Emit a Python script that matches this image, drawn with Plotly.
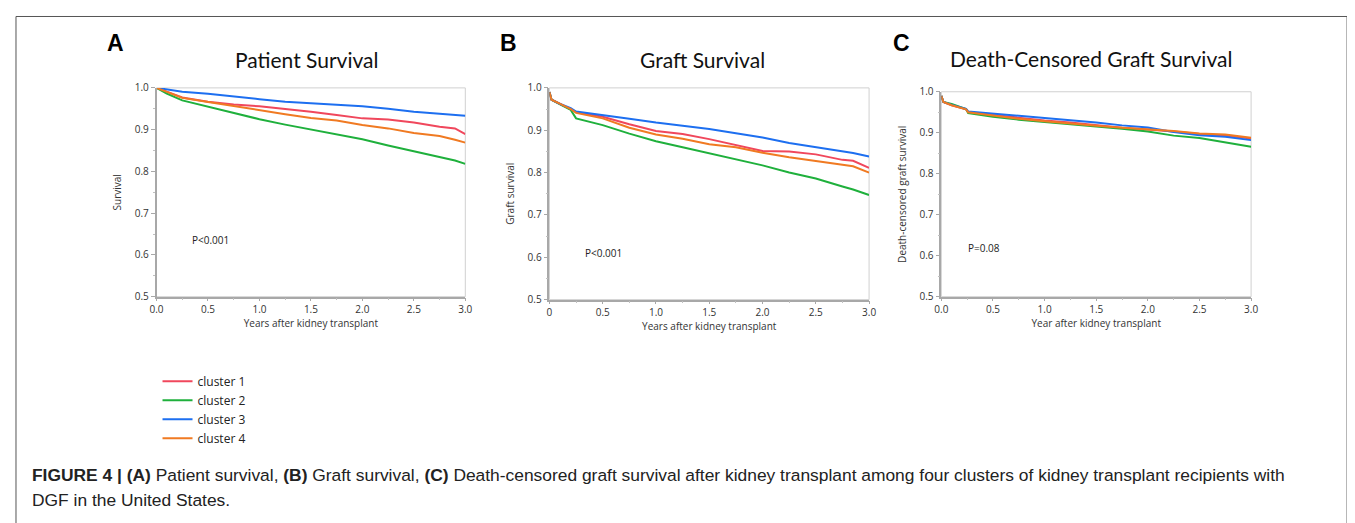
import plotly.graph_objects as go

W = 1355
H = 523
OFF = 8  # page body margin in the browser

clusters = ["cluster 1", "cluster 2", "cluster 3", "cluster 4"]
colors = ["#f0475c", "#1fb03c", "#1d6ff0", "#f07a22"]

# panel A - patient survival
t_a = [0, 0.1, 0.25, 0.5, 0.75, 1.0, 1.25, 1.5, 1.75, 2.0, 2.25, 2.5, 2.75, 2.9, 3.0]
a_c1 = [1.0, 0.991, 0.977, 0.967, 0.960, 0.956, 0.950, 0.943, 0.935, 0.927, 0.924, 0.917, 0.907, 0.903, 0.889]
a_c2 = [1.0, 0.986, 0.970, 0.955, 0.940, 0.925, 0.912, 0.900, 0.889, 0.877, 0.862, 0.848, 0.834, 0.826, 0.818]
a_c3 = [1.0, 0.996, 0.991, 0.986, 0.979, 0.973, 0.967, 0.963, 0.959, 0.956, 0.950, 0.943, 0.938, 0.935, 0.933]
a_c4 = [1.0, 0.990, 0.976, 0.966, 0.956, 0.946, 0.937, 0.928, 0.922, 0.911, 0.903, 0.892, 0.885, 0.876, 0.869]

# panel B - graft survival
t_b = [0, 0.02, 0.1, 0.2, 0.25, 0.5, 0.75, 1.0, 1.25, 1.5, 1.75, 2.0, 2.25, 2.5, 2.75, 2.85, 3.0]
b_c1 = [0.99, 0.972, 0.962, 0.950, 0.943, 0.932, 0.914, 0.898, 0.891, 0.879, 0.865, 0.851, 0.850, 0.843, 0.830, 0.828, 0.811]
b_c2 = [0.99, 0.972, 0.961, 0.948, 0.928, 0.912, 0.892, 0.874, 0.860, 0.846, 0.832, 0.817, 0.800, 0.786, 0.767, 0.760, 0.747]
b_c3 = [0.99, 0.972, 0.962, 0.952, 0.944, 0.936, 0.927, 0.918, 0.910, 0.903, 0.893, 0.883, 0.870, 0.860, 0.850, 0.846, 0.838]
b_c4 = [0.99, 0.972, 0.962, 0.950, 0.941, 0.928, 0.906, 0.890, 0.880, 0.867, 0.860, 0.847, 0.836, 0.827, 0.817, 0.815, 0.800]

# panel C - death-censored graft survival
t_c = [0, 0.02, 0.1, 0.24, 0.26, 0.5, 0.75, 1.0, 1.25, 1.5, 1.75, 2.0, 2.15, 2.25, 2.5, 2.75, 3.0]
c_c1 = [0.99, 0.975, 0.967, 0.957, 0.950, 0.943, 0.936, 0.930, 0.925, 0.919, 0.912, 0.908, 0.906, 0.903, 0.897, 0.893, 0.886]
c_c2 = [0.99, 0.975, 0.970, 0.958, 0.948, 0.939, 0.932, 0.927, 0.921, 0.915, 0.910, 0.903, 0.898, 0.893, 0.887, 0.877, 0.866]
c_c3 = [0.99, 0.975, 0.968, 0.958, 0.952, 0.947, 0.941, 0.935, 0.930, 0.925, 0.918, 0.913, 0.906, 0.902, 0.894, 0.890, 0.882]
c_c4 = [0.99, 0.975, 0.967, 0.957, 0.950, 0.942, 0.934, 0.928, 0.922, 0.917, 0.912, 0.908, 0.906, 0.904, 0.898, 0.896, 0.888]

x_ticks = [0, 0.5, 1.0, 1.5, 2.0, 2.5, 3.0]
x_text = ["0.0", "0.5", "1.0", "1.5", "2.0", "2.5", "3.0"]
x_text_b = ["0", "0.5", "1.0", "1.5", "2.0", "2.5", "3.0"]


def px(x):
    return (x - OFF) / W


def py(y):
    return 1 - (y - OFF) / H


panels = [
    (t_a, [a_c1, a_c2, a_c3, a_c4], "x", "y"),
    (t_b, [b_c1, b_c2, b_c3, b_c4], "x2", "y2"),
    (t_c, [c_c1, c_c2, c_c3, c_c4], "x3", "y3"),
]

fig = go.Figure()
for p, (t, series, xa, ya) in enumerate(panels):
    for i, s in enumerate(series):
        fig.add_trace(go.Scatter(x=t, y=s, mode="lines", name=clusters[i],
                                 line=dict(color=colors[i], width=2),
                                 xaxis=xa, yaxis=ya, showlegend=(p == 0)))

tickfont = dict(family="Open Sans", size=10, color="#333")
labfont = dict(family="Open Sans", size=10, color="#333")


def xaxis(dom, anchor, ticktext, title):
    return dict(domain=dom, anchor=anchor, range=[0, 3], tickvals=x_ticks, ticktext=ticktext,
                showline=True, linecolor="#a8a8a8", linewidth=1.5, mirror=False,
                ticks="outside", ticklen=3, tickcolor="#a8a8a8",
                minor=dict(ticks="outside", ticklen=2, dtick=0.25, tickcolor="#c0c0c0"),
                showgrid=False, zeroline=False, tickfont=tickfont,
                title=dict(text=title, font=labfont, standoff=0))


def yaxis(dom, anchor, title):
    return dict(domain=dom, anchor=anchor, range=[0.5, 1.0], dtick=0.1, tickformat=".1f",
                showline=True, linecolor="#a8a8a8", linewidth=1.5, mirror=False,
                ticks="outside", ticklen=4, tickcolor="#a8a8a8",
                minor=dict(ticks="outside", ticklen=2, dtick=0.05, tickcolor="#c0c0c0"),
                showgrid=False, zeroline=False, tickfont=tickfont,
                title=dict(text=title, font=labfont, standoff=11))


fig.update_layout(
    width=W, height=H,
    margin=dict(l=0, r=0, t=0, b=0),
    paper_bgcolor="white", plot_bgcolor="white",
    xaxis=xaxis([px(151), px(463)], "y", x_text, "Years after kidney transplant"),
    yaxis=yaxis([py(297), py(82)], "x", "Survival"),
    xaxis2=xaxis([px(548), px(871)], "y2", x_text_b, "Years after kidney transplant"),
    yaxis2=yaxis([py(300), py(82)], "x2", "Graft survival"),
    xaxis3=xaxis([px(944), px(1257)], "y3", x_text, "Year after kidney transplant"),
    yaxis3=yaxis([py(297), py(86)], "x3", "Death-censored graft survival"),
    legend=dict(x=px(152), y=py(369), xanchor="left", yanchor="top",
                font=dict(family="Open Sans", size=12, color="#222"),
                tracegroupgap=0, itemwidth=30, bgcolor="rgba(0,0,0,0)"),
    showlegend=True,
)

# light frame around each plot area
for xa, ya in [("x", "y"), ("x2", "y2"), ("x3", "y3")]:
    fig.add_shape(type="rect", xref=xa + " domain", yref=ya + " domain", x0=0, x1=1, y0=0, y1=1,
                  line=dict(color="#d0d0d0", width=1), layer="below")

# outer figure border
fig.add_shape(type="rect", xref="paper", yref="paper", x0=px(9), x1=px(1354), y0=-0.05, y1=py(8.5),
              line=dict(color="#555", width=1))

titles = [("Patient Survival", 303, 53), ("Graft Survival", 703, 53), ("Death-Censored Graft Survival", 1095, 52)]
for txt, x, y in titles:
    fig.add_annotation(text=txt, x=px(x), y=py(y), xref="paper", yref="paper", showarrow=False,
                       xanchor="center", yanchor="middle", font=dict(family="Lato", size=21, color="#111"))

letters = [("A", 110, 36), ("B", 507, 36), ("C", 904, 36)]
for txt, x, y in letters:
    fig.add_annotation(text="<b>" + txt + "</b>", x=px(x), y=py(y), xref="paper", yref="paper",
                       showarrow=False, xanchor="center", yanchor="middle",
                       font=dict(family="Liberation Sans", size=23, color="#000"))

pvals = [("P<0.001", 185, 239), ("P<0.001", 582, 252), ("P=0.08", 969, 247)]
for txt, x, y in pvals:
    fig.add_annotation(text=txt, x=px(x), y=py(y), xref="paper", yref="paper", showarrow=False,
                       xanchor="left", yanchor="middle", font=dict(family="Open Sans", size=10, color="#222"))

caption1 = ("<b>FIGURE 4 | (A)</b> Patient survival, <b>(B)</b> Graft survival, <b>(C)</b> Death-censored graft "
            "survival after kidney transplant among four clusters of kidney transplant recipients with")
caption2 = "DGF in the United States."
fig.add_annotation(text=caption1, x=px(23), y=py(481), xref="paper", yref="paper", showarrow=False,
                   xanchor="left", yanchor="middle", font=dict(family="Liberation Sans", size=17.4, color="#222"))
fig.add_annotation(text=caption2, x=px(23), y=py(506), xref="paper", yref="paper", showarrow=False,
                   xanchor="left", yanchor="middle", font=dict(family="Liberation Sans", size=17.4, color="#222"))

fig.write_html("out.html")
